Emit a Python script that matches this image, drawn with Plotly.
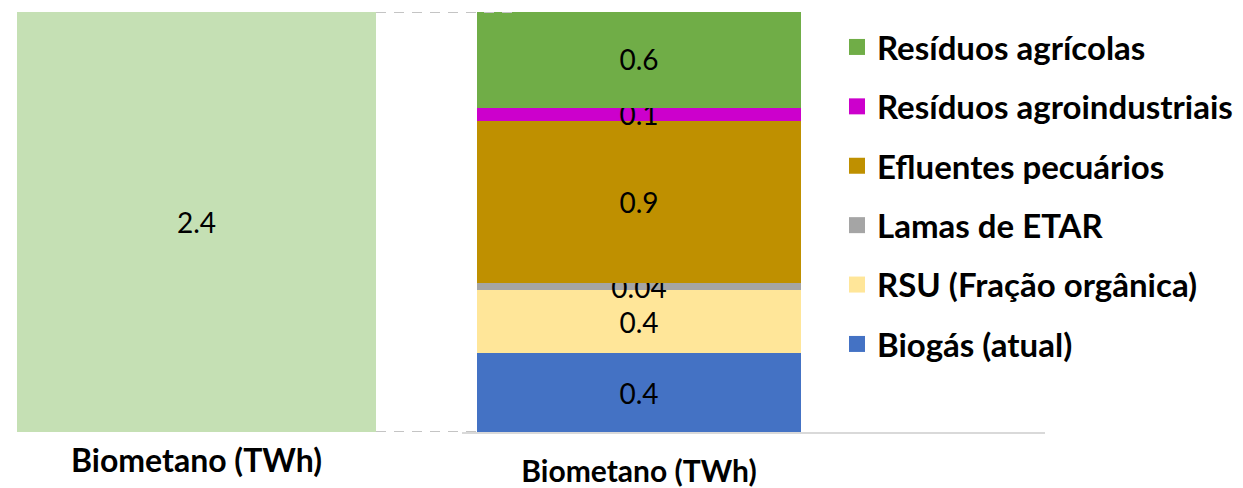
import plotly.graph_objects as go

# ---- data ----
total_category = ["Biometano (TWh)"]
total_value = [2.4]
total_label = ["2.4"]

series_names = ["Biogás (atual)", "RSU (Fração orgânica)", "Lamas de ETAR",
                "Efluentes pecuários", "Resíduos agroindustriais", "Resíduos agrícolas"]
series_values = [0.45, 0.36, 0.04, 0.93, 0.07, 0.56]
series_labels = ["0.4", "0.4", "0.04", "0.9", "0.1", "0.6"]
series_colors = ["#4472C4", "#FFE699", "#A5A5A5", "#BF9000", "#CC00CC", "#70AD47"]
total_color = "#C5E0B4"

FONT = "Lato"
FW, FH = 1243, 488


def px(x):
    return x / FW


def py(y):
    return 1 - y / FH


fig = go.Figure()

fig.add_trace(go.Bar(
    x=total_category, y=total_value, text=total_label, textposition="inside",
    insidetextanchor="middle", marker=dict(color=total_color, line=dict(width=0)),
    textfont=dict(family=FONT, size=28, color="black"), width=0.952,
    xaxis="x", yaxis="y", showlegend=False, hoverinfo="skip"))

for name, v, lab, col in zip(series_names, series_values, series_labels, series_colors):
    fig.add_trace(go.Bar(
        x=total_category, y=[v], text=[lab], textposition="inside",
        insidetextanchor="middle", marker=dict(color=col, line=dict(width=0)),
        textfont=dict(family=FONT, size=28, color="black"), width=0.915,
        xaxis="x2", yaxis="y2", showlegend=False, hoverinfo="skip", name=name))

# legend entries (top of stack first)
for i, (name, col) in enumerate(zip(series_names[::-1], series_colors[::-1])):
    fig.add_trace(go.Scatter(
        x=[None], y=[None], mode="markers", name=name,
        marker=dict(symbol="square", size=16, color=col),
        legendgroup=f"g{i}", xaxis="x2", yaxis="y2", showlegend=True))

ydom = [py(432), py(12)]
fig.update_layout(
    width=FW, height=FH, margin=dict(l=0, r=0, t=0, b=0),
    paper_bgcolor="white", plot_bgcolor="white",
    barmode="stack", font=dict(family=FONT, color="black"),
    uniformtext=dict(minsize=28, mode="show"),
    xaxis=dict(domain=[px(8), px(385)], type="category", range=[-0.5, 0.5],
               showline=False, showgrid=False, ticks="", ticklabelstandoff=7,
               tickfont=dict(family=FONT, size=32, weight="bold", color="black")),
    yaxis=dict(domain=ydom, range=[0, 2.4], visible=False),
    xaxis2=dict(domain=[px(462), px(1045)], type="category", range=[-0.5, 1.147],
                anchor="y2", showline=True, linecolor="#D9D9D9", linewidth=2,
                showgrid=False, ticks="", ticklabelstandoff=12,
                tickfont=dict(family=FONT, size=30, weight="bold", color="black")),
    yaxis2=dict(domain=ydom, range=[0, 2.4], visible=False, anchor="x2"),
    legend=dict(x=px(837), y=py(19), xanchor="left", yanchor="top",
                traceorder="grouped", tracegroupgap=13.5,
                font=dict(family=FONT, size=33, weight="bold", color="black"),
                bgcolor="rgba(0,0,0,0)"),
    showlegend=True,
    shapes=[
        dict(type="line", xref="paper", yref="y", x0=px(376), x1=px(515), y0=2.4, y1=2.4,
             line=dict(color="#C4C4C4", width=2, dash="10px,8px"), layer="above"),
        dict(type="line", xref="paper", yref="y", x0=px(376), x1=px(477), y0=0, y1=0,
             line=dict(color="#C4C4C4", width=2, dash="10px,8px"), layer="above"),
    ],
)

# remove the default page margin so the figure fills the window exactly
fig.write_html("out.html", config={"displayModeBar": False},
               post_script="document.body.style.margin='0';")
